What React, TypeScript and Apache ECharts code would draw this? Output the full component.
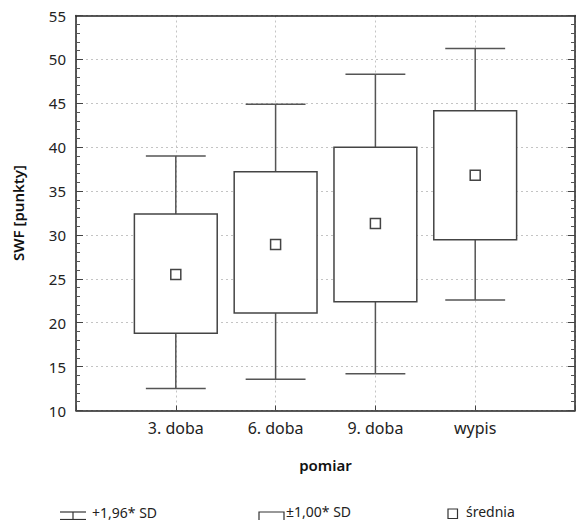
import React, { useEffect, useRef } from "react";
import * as echarts from "echarts";

const categories = ["3. doba", "6. doba", "9. doba", "wypis"];
const lowWhisker = [12.5, 13.55, 14.2, 22.6];
const boxLow = [18.8, 21.1, 22.4, 29.45];
const boxHigh = [32.4, 37.2, 40.0, 44.15];
const highWhisker = [39.0, 44.9, 48.3, 51.25];
const means = [25.5, 28.9, 31.3, 36.8];

const yTicks = { min: 10, max: 55, interval: 5 };
const legendLabels = ["+1,96* SD", "±1,00* SD", "średnia"];
const FONT = "'Noto Sans', 'Open Sans', sans-serif";

export default function App() {
  const ref = useRef<HTMLDivElement>(null);
  useEffect(() => {
    if (!ref.current) return;
    const chart = echarts.init(ref.current, null, { renderer: "svg" });
    const boxData = categories.map((_, i) => [
      i + 1,
      lowWhisker[i],
      boxLow[i],
      boxHigh[i],
      highWhisker[i],
    ]);
    const meanData = categories.map((_, i) => [i + 1, means[i]]);
    const lineColor = "#555";
    const gridLine = { show: true, lineStyle: { color: "#c4c4c4", type: [2, 3] as any, width: 1 } };
    const legendText = (text: string, x: number, yBottom: number) => ({
      type: "text",
      x,
      y: yBottom,
      style: { text, font: `14px ${FONT}`, fill: "#222", verticalAlign: "bottom", align: "left" },
    });
    const option: any = {
      animation: false,
      backgroundColor: "#fff",
      grid: { left: 76, right: 2, top: 15.5, bottom: 109.5 },
      xAxis: [
        {
          type: "value",
          min: 0,
          max: 5,
          interval: 1,
          position: "bottom",
          name: "pomiar",
          nameLocation: "middle",
          nameGap: 47,
          nameTextStyle: { fontFamily: FONT, fontSize: 15, fontWeight: 600, color: "#111" },
          axisLine: { show: true, onZero: false, lineStyle: { color: "#222", width: 1.5 } },
          axisTick: { show: true, inside: true, length: 5, lineStyle: { color: "#444" } },
          axisLabel: {
            fontFamily: FONT,
            fontSize: 16,
            color: "#222",
            margin: 9,
            formatter: (v: number) => (v >= 1 && v <= categories.length ? categories[v - 1] : ""),
          },
          splitLine: gridLine,
        },
        {
          type: "value",
          min: 0,
          max: 5,
          position: "top",
          axisLine: { show: true, onZero: false, lineStyle: { color: "#222", width: 1.5 } },
          axisTick: { show: false },
          axisLabel: { show: false },
          splitLine: { show: false },
        },
      ],
      yAxis: [
        {
          type: "value",
          min: yTicks.min,
          max: yTicks.max,
          interval: yTicks.interval,
          position: "left",
          name: "SWF [punkty]",
          nameLocation: "middle",
          nameGap: 51,
          nameTextStyle: { fontFamily: FONT, fontSize: 15, fontWeight: 600, color: "#111" },
          axisLine: { show: true, onZero: false, lineStyle: { color: "#222", width: 1.5 } },
          axisTick: { show: true, inside: true, length: 7, lineStyle: { color: "#444" } },
          minorTick: { show: true, splitNumber: 5, length: 4, lineStyle: { color: "#555" } },
          axisLabel: { fontFamily: FONT, fontSize: 15, color: "#222", margin: 10 },
          splitLine: gridLine,
        },
        {
          type: "value",
          min: yTicks.min,
          max: yTicks.max,
          interval: yTicks.interval,
          position: "right",
          axisLine: { show: true, onZero: false, lineStyle: { color: "#222", width: 1.5 } },
          axisTick: { show: true, inside: true, length: 7, lineStyle: { color: "#444" } },
          minorTick: { show: true, splitNumber: 5, length: 4, lineStyle: { color: "#555" } },
          axisLabel: { show: false },
          splitLine: { show: false },
        },
      ],
      series: [
        {
          type: "custom",
          xAxisIndex: 0,
          yAxisIndex: 0,
          data: boxData,
          renderItem: (params: any, api: any) => {
            const x = api.value(0);
            const lo = api.coord([x, api.value(1)]);
            const q1 = api.coord([x, api.value(2)]);
            const q3 = api.coord([x, api.value(3)]);
            const hi = api.coord([x, api.value(4)]);
            const boxHalf = api.size([0.83, 0])[0] / 2;
            const capHalf = api.size([0.6, 0])[0] / 2;
            const st = { stroke: lineColor, lineWidth: 1.5, fill: null };
            return {
              type: "group",
              children: [
                { type: "line", shape: { x1: lo[0], y1: lo[1], x2: q1[0], y2: q1[1] }, style: st },
                { type: "line", shape: { x1: q3[0], y1: q3[1], x2: hi[0], y2: hi[1] }, style: st },
                { type: "line", shape: { x1: lo[0] - capHalf, y1: lo[1], x2: lo[0] + capHalf, y2: lo[1] }, style: st },
                { type: "line", shape: { x1: hi[0] - capHalf, y1: hi[1], x2: hi[0] + capHalf, y2: hi[1] }, style: st },
                {
                  type: "rect",
                  shape: { x: q3[0] - boxHalf, y: q3[1], width: boxHalf * 2, height: q1[1] - q3[1] },
                  style: { stroke: "#444", lineWidth: 1.5, fill: "#fff" },
                },
              ],
            };
          },
          z: 2,
        },
        {
          type: "scatter",
          xAxisIndex: 0,
          yAxisIndex: 0,
          data: meanData,
          symbol: "rect",
          symbolSize: 10,
          itemStyle: { color: "#fff", borderColor: "#444", borderWidth: 1.5, opacity: 1 },
          z: 3,
        },
      ],
      graphic: [
        { type: "line", shape: { x1: 60, y1: 512, x2: 86, y2: 512 }, style: { stroke: "#333", lineWidth: 1.2 } },
        { type: "line", shape: { x1: 73, y1: 512, x2: 73, y2: 520 }, style: { stroke: "#333", lineWidth: 1.2 } },
        { type: "line", shape: { x1: 60, y1: 519.5, x2: 86, y2: 519.5 }, style: { stroke: "#333", lineWidth: 1.2 } },
        legendText(legendLabels[0], 92, 519),
        {
          type: "rect",
          shape: { x: 259, y: 512, width: 25, height: 14 },
          style: { stroke: "#333", lineWidth: 1.2, fill: "#fff" },
        },
        legendText(legendLabels[1], 286, 518.5),
        {
          type: "rect",
          shape: { x: 448, y: 509, width: 9.5, height: 9.5 },
          style: { stroke: "#333", lineWidth: 1.2, fill: "#fff" },
        },
        legendText(legendLabels[2], 466, 518.5),
      ],
    };
    chart.setOption(option);
    return () => chart.dispose();
  }, []);
  return <div ref={ref} style={{ width: 578, height: 520, position: "absolute", left: 0, top: 0 }} />;
}
